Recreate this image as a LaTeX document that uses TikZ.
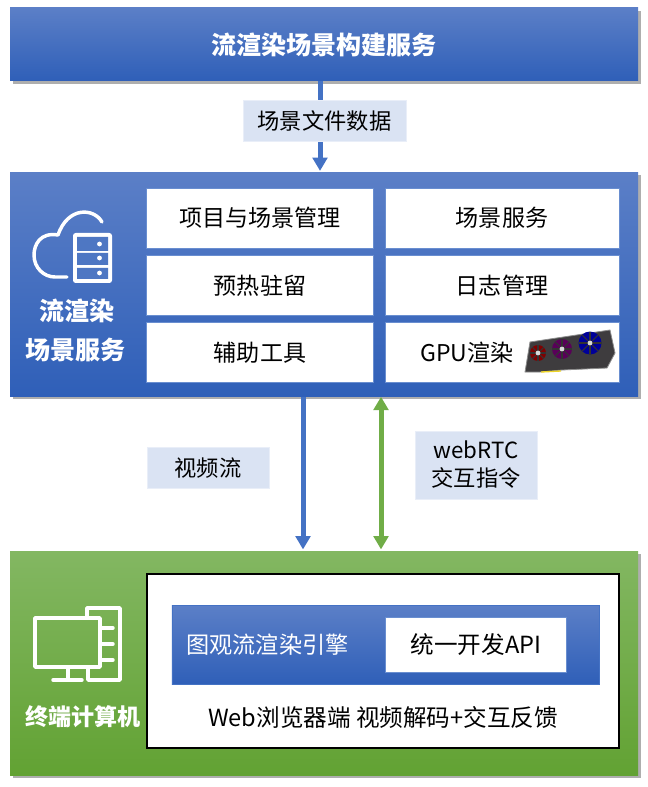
\documentclass[tikz,border=0pt]{standalone}
\usepackage{fontspec}
\setmainfont{Noto Sans CJK SC}
\usetikzlibrary{arrows.meta,shadows}
\definecolor{barblue}{RGB}{47,95,184}
\definecolor{paleblue}{RGB}{91,127,199}
\definecolor{flowblue}{RGB}{68,114,196}
\definecolor{labelblue}{RGB}{218,227,243}
\definecolor{bargreen}{RGB}{98,162,51}
\definecolor{palegreen}{RGB}{131,183,98}
\definecolor{flowgreen}{RGB}{112,173,71}
\definecolor{cardgray}{RGB}{62,60,62}
\tikzset{
  bluepanel/.style={draw=none, top color=paleblue, bottom color=barblue, drop shadow={shadow xshift=2pt, shadow yshift=-2pt, opacity=.45, fill=black!70}},
  greenpanel/.style={draw=none, top color=palegreen, bottom color=bargreen, drop shadow={shadow xshift=2pt, shadow yshift=-2pt, opacity=.45, fill=black!70}},
  cell/.style={draw=flowblue!80, fill=white, text=black, minimum height=45pt, font=\fontsize{17.3}{21}\selectfont},
  tag/.style={draw=labelblue!60, fill=labelblue, text=black, align=center, font=\fontsize{16.7}{21}\selectfont},
  headtext/.style={text=white, font=\fontsize{18.8}{24}\selectfont\bfseries},
  icon/.style={draw=white, line width=2.6pt, line cap=round, line join=round},
  flow/.style={line width=3.75pt, shorten >=1pt, -{Triangle[width=11pt,length=10pt]}},
}
\begin{document}
\begin{tikzpicture}[x=.75pt, y=-.75pt]
\useasboundingbox (0,0) rectangle (648,787);

% Panels
\node[bluepanel, minimum width=471pt, minimum height=54.75pt] (build) at (324,44.5) {};
\node[headtext] (buildtext) at (324,45) {流渲染场景构建服务};
\node[bluepanel, minimum width=471pt, minimum height=168pt] (render) at (324,284.5) {};
\node[greenpanel, minimum width=471pt, minimum height=168pt] (terminal) at (324,663) {};

% Service cells
\node[cell, minimum width=170.5pt] (project) at (260,218) {项目与场景管理};
\node[cell, minimum width=175.5pt] (sceneserv) at (502,218) {场景服务};
\node[cell, minimum width=170.5pt] (preheat) at (260,285.5) {预热驻留};
\node[cell, minimum width=175.5pt] (logs) at (502,285.5) {日志管理};
\node[cell, minimum width=170.5pt] (tools) at (260,352.5) {辅助工具};
\node[cell, minimum width=175.5pt] (gpucell) at (502,352.5) {};
\node[text=black, font=\fontsize{17.3}{21}\selectfont] (gputext) at (467,353) {GPU渲染};

% Graphics card
\fill[cardgray, draw=black!45, line width=.6pt] (525,372) -- (530,342) -- (610,330) -- (615,353) -- (607,368) -- (562,370) -- (540,372) -- cycle;
\draw[yellow!70!brown, line width=1pt] (541,372) -- (561,371);
\foreach \cx/\cy/\rr/\fancol in {538/353/8/red!50!black, 562/349/10/violet!70!black, 590/343/11.5/blue!60!black} {
  \fill[\fancol] (\cx,\cy) circle[radius=\rr];
  \foreach \ang in {0,45,...,315}
    \draw[black!80, line width=.8pt] (\cx,\cy) -- ++(\ang:\rr);
  \fill[white!85!black] (\cx,\cy) circle[radius=2.4];
}

% Cloud and server icon
\draw[icon] (102,222) .. controls (94,208) and (68,206) .. (58,235) .. controls (40,232) and (34,245) .. (34,255) .. controls (34,268) and (44,277) .. (55,277) -- (67,277);
\fill[white, rounded corners=2pt] (73,233) rectangle (112,283);
\fill[barblue!85!white] (77,237) rectangle (108,251) (77,253) rectangle (108,265) (77,268) rectangle (108,279);
\foreach \dy in {244,258,273}
  \fill[white] (99.5,\dy) circle[radius=2.4];
\node[headtext] (rendertext) at (77,311) {流渲染};
\node[headtext] (rendertextb) at (75.5,350) {场景服务};

% Browser box
\node[draw=black, fill=white, line width=1.5pt, minimum width=354.5pt, minimum height=131pt] (browser) at (383,661) {};
\node[draw=flowblue, top color=paleblue, bottom color=barblue, minimum width=320.5pt, minimum height=59.5pt] (engine) at (385.5,645) {};
\node[text=white, font=\fontsize{17.4}{21}\selectfont] (enginetext) at (267.5,645) {图观流渲染引擎};
\node[draw=flowblue!80, fill=white, minimum width=136pt, minimum height=41.5pt, font=\fontsize{17.7}{21}\selectfont] (api) at (476,645) {统一开发API};
\node[text=black, font=\fontsize{17.7}{21}\selectfont] (webtext) at (383,717) {Web浏览器端 视频解码+交互反馈};

% Monitor icon
\draw[icon] (35,618) rectangle (100,667);
\draw[icon] (68,667) -- (68,680) (53,680) -- (82,680);
\draw[icon] (87,618) -- (87,608) -- (120,608) -- (120,680) -- (88,680) -- (88,667);
\foreach \ty in {628,644,660}
  \draw[icon] (100,\ty) -- (113,\ty);
\node[headtext, font=\fontsize{17.3}{22}\selectfont\bfseries] (terminaltext) at (83,717) {终端计算机};

% Arrows
\coordinate (filex) at (320,0);
\coordinate (videox) at (303,0);
\coordinate (cmdx) at (381,0);
\draw[flow, flowblue] (filex |- build.south) -- (filex |- render.north);
\draw[flow, flowblue] (videox |- render.south) -- (videox |- terminal.north);
\draw[flow, flowgreen, {Triangle[width=11pt,length=10pt]}-{Triangle[width=11pt,length=10pt]}] (cmdx |- render.south) -- (cmdx |- terminal.north);

% Labels
\node[tag, minimum width=122pt, minimum height=30.5pt] (filedata) at (324.5,120.5) {场景文件数据};
\node[tag, minimum width=91.5pt, minimum height=31pt] (videoflow) at (208,468) {视频流};
\node[tag, minimum width=91.5pt, minimum height=51pt] (webrtc) at (476,465) {webRTC\\交互指令};
\end{tikzpicture}
\end{document}
